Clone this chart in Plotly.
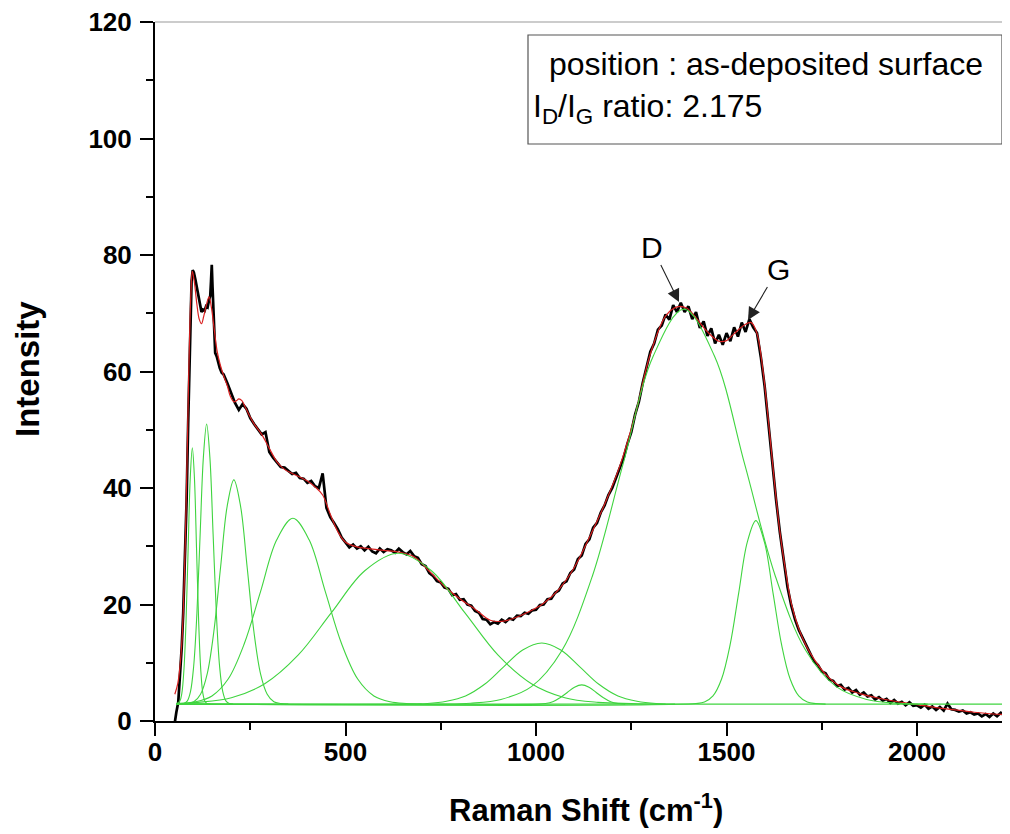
import plotly.graph_objects as go

# ---------------- data ----------------
# measured spectrum (black), low-shift part (irregular spacing)
black_x_low = [48, 52, 56, 61, 66, 70, 74, 78, 83, 87, 90, 93, 96, 99, 102, 106, 110, 114,
               118, 122, 126, 130, 134, 138, 142, 145, 147, 149, 151, 153, 155, 158, 162,
               166, 170, 175]
black_y_low = [-2.0, 0.2, 1.5, 3.2, 7.5, 12.5, 18.5, 27.0, 38.0, 51.0, 61.0, 70.0, 75.5, 77.4,
               77.0, 75.8, 74.3, 72.5, 71.1, 70.2, 70.6, 70.4, 71.2, 71.0, 72.3, 73.0, 75.5,
               78.3, 74.5, 70.2, 66.0, 63.2, 62.6, 61.3, 60.6, 59.8]
# measured spectrum, 180 ... 2240 cm-1 every 10 cm-1
black_x_main = list(range(180, 2250, 10))
black_y_main = [
    59.5, 58.0, 56.2, 54.6, 53.4, 54.4, 53.6, 52.0, 51.0, 50.2,
    49.2, 49.6, 46.2, 45.2, 44.3, 43.6, 43.5, 42.9, 42.4, 42.6,
    41.7, 41.6, 40.9, 41.2, 40.3, 40.0, 42.5, 36.6, 35.0, 34.0,
    32.9, 31.5, 30.6, 29.8, 30.3, 29.6, 30.0, 29.3, 29.9, 29.1,
    28.8, 29.6, 29.0, 29.5, 29.3, 28.9, 29.6, 29.0, 28.6, 29.2,
    28.3, 28.0, 26.9, 26.6, 25.4, 24.9, 24.0, 23.8, 22.9, 22.7,
    21.6, 21.8, 20.8, 20.9, 20.0, 19.8, 18.9, 18.6, 17.5, 17.4,
    16.6, 17.0, 16.7, 17.4, 17.0, 17.6, 17.4, 18.1, 18.0, 18.6,
    18.4, 19.0, 19.1, 19.9, 20.0, 20.9, 21.0, 22.0, 22.4, 23.6,
    24.0, 25.4, 26.0, 27.8, 28.4, 30.4, 31.2, 33.2, 34.0, 35.8,
    37.0, 38.8, 40.0, 41.8, 43.6, 45.2, 47.6, 49.6, 52.6, 54.8,
    58.0, 60.6, 63.4, 64.8, 67.2, 67.9, 69.8, 68.9, 71.4, 70.2,
    71.8, 70.2, 71.2, 69.0, 70.2, 67.5, 68.6, 66.1, 67.4, 64.8,
    66.3, 64.6, 66.6, 65.2, 67.6, 66.0, 68.4, 66.8, 69.0, 67.6,
    66.6, 62.5, 57.5, 51.0, 44.0, 38.0, 32.4, 27.6, 23.0, 19.8,
    17.4, 15.6, 14.2, 12.8, 11.6, 10.2, 9.6, 8.5, 8.2, 7.1,
    6.9, 6.0, 6.2, 5.4, 5.7, 4.9, 5.3, 4.5, 4.9, 4.2,
    4.4, 3.7, 4.1, 3.5, 3.8, 3.1, 3.6, 3.0, 3.3, 2.7,
    3.2, 2.6, 2.7, 2.3, 2.8, 2.1, 2.5, 1.9, 2.4, 1.8,
    3.0, 2.0, 1.9, 1.6, 1.8, 1.3, 1.5, 1.1, 1.3, 0.8,
    1.2, 0.7, 1.3, 0.8, 1.4, 0.9, 1.4]

# cumulative fit (red)
fit_x = [52, 60, 70, 80, 88, 94, 98, 103, 110, 116, 122, 128, 135, 142, 148, 155, 163, 171,
         180, 190, 198, 207, 214, 220, 228, 236, 245, 260, 280, 300, 320, 340, 360, 380, 400,
         420, 440, 460, 480, 500, 530, 560, 600, 640, 680, 720, 760, 800, 840, 880, 910, 940,
         980, 1020, 1060, 1100, 1140, 1180, 1220, 1260, 1300, 1340, 1370, 1395, 1420, 1450,
         1480, 1500, 1520, 1545, 1565, 1580, 1595, 1610, 1625, 1640, 1655, 1670, 1690, 1710,
         1730, 1760, 1800, 1850, 1900, 1950, 2000, 2050, 2100, 2150, 2200, 2244]
fit_y = [4.6, 6.5, 13.0, 32.0, 58.0, 73.0, 77.2, 75.5, 71.5, 69.0, 68.2, 69.5, 71.5, 72.8,
         71.0, 67.5, 63.5, 61.2, 59.3, 57.5, 55.7, 54.8, 55.0, 55.3, 55.0, 54.0, 52.8, 51.0,
         49.2, 46.8, 44.5, 43.2, 42.5, 41.9, 41.2, 40.2, 38.8, 35.5, 32.5, 30.7, 29.9, 29.6,
         29.3, 29.0, 28.2, 25.7, 23.1, 21.0, 19.2, 17.3, 17.1, 17.6, 18.7, 20.2, 22.6, 26.3,
         31.5, 37.2, 43.8, 52.5, 63.0, 69.5, 71.1, 70.9, 69.2, 66.8, 65.2, 65.3, 66.5, 67.9,
         68.4, 66.5, 60.5, 51.5, 41.5, 32.5, 25.8, 20.2, 15.8, 12.8, 10.6, 8.0, 5.9, 4.7, 3.9,
         3.3, 2.8, 2.3, 1.9, 1.5, 1.2, 1.1]

# fitted baseline and peak components (green)
baseline_x = [57, 2244]
baseline_y = [2.9, 2.9]

peak1_x = [57, 65, 70.5, 76, 81.5, 87, 92.5, 98, 103.5, 109, 114.5, 120, 125.5, 131, 136.5, 145]
peak1_y = [3.0, 3.4, 4.8, 8.9, 17.2, 29.6, 41.7, 46.9, 41.7, 29.6, 17.2, 8.9, 4.8, 3.4, 3.0, 2.9]

peak2_x = [57, 76, 84.5, 93, 101.5, 110, 118.5, 127, 135.5, 144, 152.5, 161, 169.5, 178,
           186.5, 195, 205]
peak2_y = [2.9, 3.0, 3.4, 5.0, 9.4, 18.5, 32.1, 45.3, 51.0, 45.3, 32.1, 18.5, 9.4, 5.0,
           3.4, 3.0, 2.9]

peak3_x = [57, 84.5, 102, 119.5, 137, 154.5, 172, 189.5, 207, 224.5, 242, 259.5, 277, 294.5,
           312, 329.5, 350]
peak3_y = [2.9, 3.0, 3.3, 4.6, 8.1, 15.4, 26.3, 36.9, 41.4, 36.9, 26.3, 15.4, 8.1, 4.6,
           3.3, 3.0, 2.9]

peak4_x = [57, 107, 149.5, 192, 234.5, 277, 319.5, 362, 404.5, 447, 489.5, 532, 574.5, 617,
           659.5, 700]
peak4_y = [3.0, 3.3, 4.3, 7.2, 13.3, 22.2, 31.1, 34.8, 31.1, 22.2, 13.3, 7.2, 4.3, 3.3,
           3.0, 2.9]

peak5_x = [57, 113, 200.5, 288, 375.5, 463, 550.5, 638, 725.5, 813, 900.5, 988, 1075.5,
           1163, 1250.5, 1340]
peak5_y = [3.0, 3.2, 4.0, 6.4, 11.3, 18.6, 25.8, 28.8, 25.8, 18.6, 11.3, 6.4, 4.0, 3.2,
           3.0, 2.9]

peak6_x = [57, 665, 715, 765, 815, 865, 915, 965, 1015, 1065, 1115, 1165, 1215, 1265, 1315,
           1365]
peak6_y = [2.9, 2.9, 3.0, 3.4, 4.3, 6.3, 9.3, 12.2, 13.4, 12.2, 9.3, 6.3, 4.3, 3.4, 3.0, 2.9]

peak7_x = [57, 1006, 1025, 1044, 1063, 1082, 1101, 1120, 1139, 1158, 1177, 1196, 1215, 1234]
peak7_y = [2.9, 2.9, 3.0, 3.3, 4.0, 4.9, 5.8, 6.2, 5.8, 4.9, 4.0, 3.3, 3.0, 2.9]

peakD_x = [57, 748, 828, 908, 988, 1068, 1148, 1228, 1308, 1388, 1468, 1548, 1628, 1708,
           1788, 1868, 1948, 2028]
peakD_y = [2.9, 2.9, 3.05, 3.7, 5.9, 12.1, 24.9, 44.0, 62.7, 70.7, 62.7, 44.0, 24.9, 12.1,
           5.9, 3.7, 3.05, 2.9]

peakG_x = [57, 1419.5, 1442, 1464.5, 1487, 1509.5, 1532, 1554.5, 1577, 1599.5, 1622, 1644.5,
           1667, 1689.5, 1712, 1734.5, 1760]
peakG_y = [2.9, 3.0, 3.25, 4.3, 7.2, 13.1, 22.0, 30.7, 34.4, 30.7, 22.0, 13.1, 7.2, 4.3,
           3.25, 3.0, 2.9]

x_ticks = [0, 500, 1000, 1500, 2000]
y_ticks = [0, 20, 40, 60, 80, 100, 120]

box_line1 = "position : as-deposited surface"
box_line2 = "I<sub>D</sub>/I<sub>G</sub> ratio: 2.175"

# ---------------- figure ----------------
FONT = "Liberation Sans, Arial, sans-serif"
GREEN = "#3fd43f"

fig = go.Figure()

fig.add_trace(go.Scatter(x=black_x_low + black_x_main, y=black_y_low + black_y_main,
                         mode="lines", line=dict(color="black", width=2.7),
                         hoverinfo="skip", showlegend=False))
fig.add_trace(go.Scatter(x=fit_x, y=fit_y, mode="lines",
                         line=dict(color="#d92020", width=1.2, shape="spline"),
                         hoverinfo="skip", showlegend=False))

fig.add_trace(go.Scatter(x=baseline_x, y=baseline_y, mode="lines",
                         line=dict(color=GREEN, width=1.2), hoverinfo="skip",
                         showlegend=False))
for px_, py_ in [(peak1_x, peak1_y), (peak2_x, peak2_y), (peak3_x, peak3_y),
                 (peak4_x, peak4_y), (peak5_x, peak5_y), (peak6_x, peak6_y),
                 (peak7_x, peak7_y), (peakD_x, peakD_y), (peakG_x, peakG_y)]:
    fig.add_trace(go.Scatter(x=px_, y=py_, mode="lines",
                             line=dict(color=GREEN, width=1.1, shape="spline"),
                             hoverinfo="skip", showlegend=False))

tickfont = dict(family=FONT, size=26, color="black", weight="bold")
fig.update_xaxes(range=[0, 2244], tickvals=x_ticks, ticks="outside", ticklen=13,
                 tickwidth=2, tickcolor="black", showline=True, linecolor="black",
                 linewidth=2, showgrid=False, zeroline=False, tickfont=tickfont,
                 ticklabelstandoff=-6, ticklabeloverflow="allow",
                 minor=dict(dtick=250, tick0=0, ticks="outside", ticklen=7, tickwidth=2,
                            tickcolor="black", showgrid=False))
fig.update_yaxes(range=[0, 120], tickvals=y_ticks, ticks="outside", ticklen=13,
                 tickwidth=2, tickcolor="black", showline=True, linecolor="black",
                 linewidth=2, showgrid=False, zeroline=False, tickfont=tickfont,
                 ticklabelstandoff=3, ticklabeloverflow="allow",
                 minor=dict(dtick=10, tick0=0, ticks="outside", ticklen=7, tickwidth=2,
                            tickcolor="black", showgrid=False))

# page has an 8px body margin: figure is 1002x826 drawn at (8,8)
W, H = 1002, 826
L, R, T, B = 147, 0, 14, 113
# screen coordinates of the plot area
SX0, SX1, SY0, SY1 = 155, 1010, 22, 721


def px2paper(px, py):
    return (px - SX0) / (SX1 - SX0), (SY1 - py) / (SY1 - SY0)


shapes = []
# thin grey top frame line
shapes.append(dict(type="line", xref="paper", yref="paper", x0=0, x1=1, y0=1, y1=1,
                   line=dict(color="#9a9a9a", width=1.2)))
bx0, by0 = px2paper(528, 144)
bx1, by1 = px2paper(1002, 35)
shapes.append(dict(type="rect", xref="paper", yref="paper", x0=bx0, x1=bx1, y0=by0, y1=by1,
                   line=dict(color="#555555", width=1.2), fillcolor="rgba(0,0,0,0)"))

ann = []
tx, ty = px2paper(547, 64)
ann.append(dict(xref="paper", yref="paper", x=tx, y=ty, text=box_line1, showarrow=False,
                xanchor="left", yanchor="middle",
                font=dict(family=FONT, size=32, color="black")))
tx, ty = px2paper(531, 108)
ann.append(dict(xref="paper", yref="paper", x=tx, y=ty, text=box_line2, showarrow=False,
                xanchor="left", yanchor="middle",
                font=dict(family=FONT, size=32, color="black")))

# D and G labels with arrows (arrow tip at the peak)
tipx, tipy = px2paper(679, 302)
ann.append(dict(xref="paper", yref="paper", x=tipx, y=tipy, text="D", showarrow=True,
                arrowhead=2, arrowsize=2.3, arrowwidth=1.1, arrowcolor="#222222",
                ax=-27, ay=-55, standoff=0,
                font=dict(family=FONT, size=30, color="black")))
tipx, tipy = px2paper(748, 320)
ann.append(dict(xref="paper", yref="paper", x=tipx, y=tipy, text="G", showarrow=True,
                arrowhead=2, arrowsize=2.3, arrowwidth=1.1, arrowcolor="#222222",
                ax=30, ay=-51, standoff=0,
                font=dict(family=FONT, size=30, color="black")))

# axis titles
tx, ty = px2paper(27, 369)
ann.append(dict(xref="paper", yref="paper", x=tx, y=ty, text="Intensity", showarrow=False,
                textangle=-90, xanchor="center", yanchor="middle",
                font=dict(family=FONT, size=33, color="black", weight="bold")))
tx, ty = px2paper(586, 808)
ann.append(dict(xref="paper", yref="paper", x=tx, y=ty,
                text="Raman Shift (cm<sup>-1</sup>)", showarrow=False,
                xanchor="center", yanchor="middle",
                font=dict(family=FONT, size=31, color="black", weight="bold")))

fig.update_layout(width=W, height=H, margin=dict(l=L, r=R, t=T, b=B, pad=0),
                  plot_bgcolor="white", paper_bgcolor="white", shapes=shapes,
                  annotations=ann, showlegend=False)

fig.write_html("out.html")
